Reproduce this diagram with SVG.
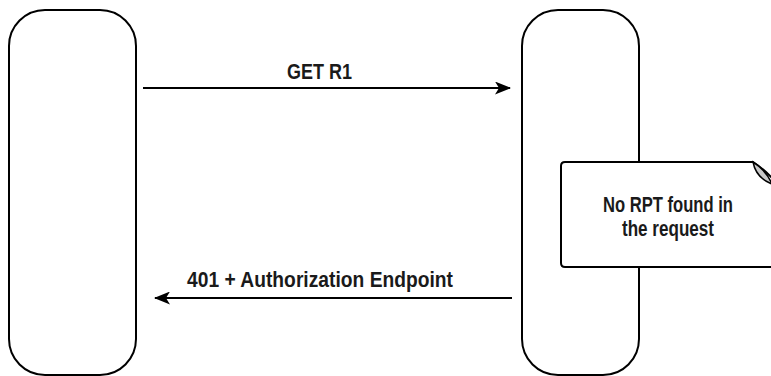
<svg xmlns="http://www.w3.org/2000/svg" width="771" height="376" viewBox="0 0 771 376">
<style>
.node{fill:#fff;stroke:#000;stroke-width:2}
.lbl{font-family:"Liberation Sans",Arial,sans-serif;font-size:21.5px;font-weight:bold;fill:#1a1a1a}
.edge{stroke:#000;stroke-width:2;fill:none}
</style>
<defs>
<marker id="arr" viewBox="0 0 16 13" refX="15" refY="6.5" markerWidth="16" markerHeight="13" markerUnits="userSpaceOnUse" orient="auto">
<path d="M0,0 L16,6.5 L0,13 L4,6.5 Z" fill="#000"/>
</marker>
</defs>
<g id="client"><rect class="node" x="9" y="10" width="127" height="365" rx="36" ry="36"/></g>
<g id="server"><rect class="node" x="522" y="10" width="117" height="365" rx="36" ry="36"/></g>
<g id="note">
<path class="node" d="M565,162 L753,162 Q765,170 775,181 L775,267 L565,267 Q561,267 561,263 L561,166 Q561,162 565,162 Z"/>
<path d="M753,162 Q756,178 772,184 Q766,170 753,162 Z" fill="#c8c8c8" stroke="#000" stroke-width="1.5"/>
<text class="lbl" x="603" y="212" textLength="130" lengthAdjust="spacingAndGlyphs">No RPT found in</text>
<text class="lbl" x="622" y="236" textLength="92" lengthAdjust="spacingAndGlyphs">the request</text>
</g>
<g id="connectors">
<line class="edge" x1="143" y1="88" x2="510" y2="88" marker-end="url(#arr)"/>
<text class="lbl" x="287" y="79" textLength="65" lengthAdjust="spacingAndGlyphs">GET R1</text>
<line class="edge" x1="512" y1="298" x2="155" y2="298" marker-end="url(#arr)"/>
<text class="lbl" x="187" y="287" textLength="266" lengthAdjust="spacingAndGlyphs">401 + Authorization Endpoint</text>
</g>
</svg>
